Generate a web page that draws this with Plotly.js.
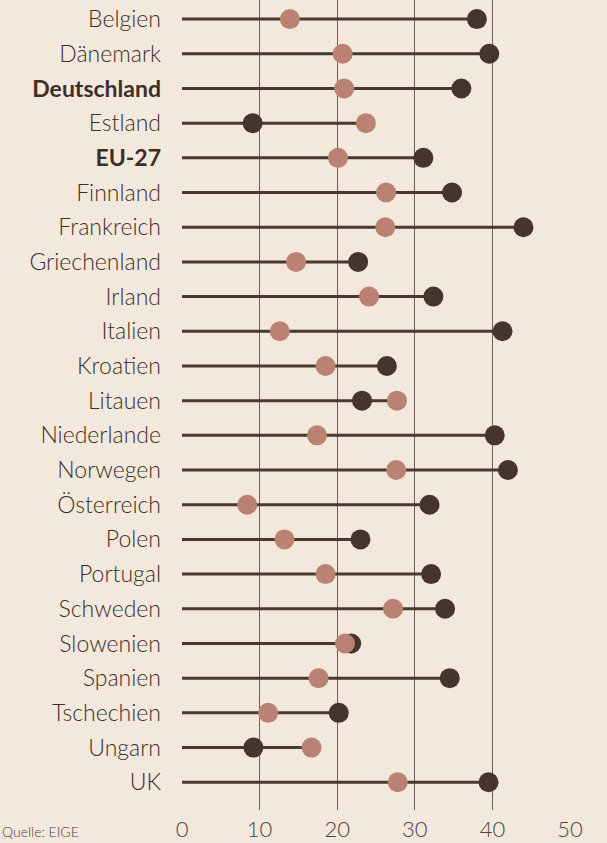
<!DOCTYPE html>
<html><head><meta charset="utf-8">
<script src="https://cdn.plot.ly/plotly-3.0.1.min.js"></script>
<style>html,body{margin:0;padding:0;background:#f2e8dc;}#chart{width:607px;height:843px;}</style>
</head><body><div id="chart"></div>
<script>
const countries = ["Belgien","Dänemark","Deutschland","Estland","EU-27","Finnland","Frankreich","Griechenland","Irland","Italien","Kroatien","Litauen","Niederlande","Norwegen","Österreich","Polen","Portugal","Schweden","Slowenien","Spanien","Tschechien","Ungarn","UK"];
const darkValues = [38.0,39.6,36.0,9.1,31.1,34.8,44.0,22.7,32.4,41.3,26.4,23.2,40.3,42.0,31.9,23.0,32.1,33.9,21.8,34.5,20.2,9.2,39.5];
const lightValues = [13.9,20.7,20.9,23.7,20.1,26.3,26.2,14.7,24.1,12.6,18.5,27.7,17.4,27.6,8.4,13.2,18.5,27.2,21.0,17.6,11.1,16.7,27.8];
const boldLabels = ["Deutschland","EU-27"];
const xTicks = [0,10,20,30,40,50];
const source = "Quelle: EIGE";

const tickText = countries.map(c => boldLabels.includes(c) ? "<b>" + c + "</b>" : c);
const idx = countries.map((c,i)=>i);

const lx = [], ly = [];
countries.forEach((c,i)=>{ lx.push(0, Math.max(darkValues[i], lightValues[i]), null); ly.push(i, i, null); });

const traces = [
  {type:"scatter", mode:"lines", x:lx, y:ly, line:{color:"#4a3731", width:3}, hoverinfo:"skip", cliponaxis:false},
  {type:"scatter", mode:"markers", x:darkValues, y:idx, marker:{color:"#46342e", size:20}, cliponaxis:false},
  {type:"scatter", mode:"markers", x:lightValues, y:idx, marker:{color:"#b98273", size:20}, cliponaxis:false}
];

const layout = {
  width:607, height:843,
  paper_bgcolor:"#f2e8dc", plot_bgcolor:"#f2e8dc",
  margin:{l:182, r:37, t:0, b:33},
  showlegend:false,
  font:{family:"Lato, 'Open Sans', sans-serif", color:"#3d2e29", weight:300},
  xaxis:{range:[0,50], tickvals:xTicks, ticktext:xTicks.map(String), showgrid:true, gridcolor:"#6f5f58", gridwidth:1,
         zeroline:false, showline:false, ticks:"", tickfont:{size:22, color:"#514340", weight:300}, ticklabelstandoff:4, fixedrange:true},
  yaxis:{range:[22.8,-0.55], tickvals:idx, ticktext:tickText, showgrid:false, zeroline:false, showline:false, ticks:"",
         tickfont:{size:23, color:"#3d2e29", weight:300}, ticklabelstandoff:20, fixedrange:true},
  annotations:[{text:source, xref:"paper", yref:"paper", x:-182/388, y:-21/810, xanchor:"left", yanchor:"middle",
                showarrow:false, font:{size:14, color:"#514340", weight:300}}]
};
Plotly.newPlot("chart", traces, layout, {displayModeBar:false, staticPlot:true});
</script></body></html>
